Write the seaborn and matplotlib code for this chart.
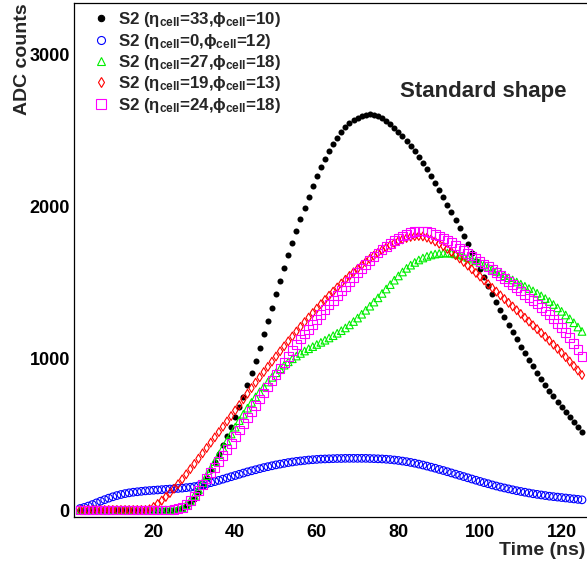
"""
Pulse shapes of five S2 cells (ADC counts vs time), ROOT-like style.
"""
import matplotlib

matplotlib.use("Agg")
import matplotlib.pyplot as plt
import seaborn as sns
from matplotlib.ticker import MultipleLocator
from matplotlib.lines import Line2D

sns.set_theme(style="white")
plt.rcParams["font.family"] = ["Liberation Sans", "DejaVu Sans"]
plt.rcParams["font.weight"] = "bold"
plt.rcParams["mathtext.fontset"] = "custom"
plt.rcParams["mathtext.rm"] = "Liberation Sans:bold"
plt.rcParams["mathtext.it"] = "Liberation Sans:bold"
plt.rcParams["mathtext.bf"] = "Liberation Sans:bold"

# time samples (ns)
time_ns = list(range(2, 126))

# S2 (eta=33, phi=10)
adc_33_10 = [0] * 23 + [
    2, 6, 13, 28, 48, 75, 112, 158, 208, 260,
    315, 370, 425, 485, 548, 612, 678, 745, 820, 900,
    983, 1068, 1155, 1243, 1332, 1420, 1505, 1590, 1675, 1757,
    1837, 1915, 1990, 2062, 2130, 2195, 2255, 2312, 2363, 2410,
    2450, 2486, 2518, 2545, 2566, 2582, 2594, 2601, 2603, 2600,
    2592, 2578, 2560, 2538, 2513, 2487, 2458, 2427, 2394, 2359,
    2322, 2283, 2242, 2198, 2152, 2104, 2057, 2010, 1960, 1908,
    1855, 1801, 1748, 1694, 1640, 1585, 1530, 1475, 1420, 1368,
    1318, 1268, 1218, 1168, 1122, 1075, 1030, 987, 945, 903,
    862, 822, 784, 747, 711, 676, 642, 609, 577, 546,
    515,
]

# S2 (eta=0, phi=12)
adc_0_12 = [
    10, 17, 26, 36, 47, 58, 68, 78, 87, 95,
    102, 108, 113, 117, 120, 123, 126, 128, 130, 132,
    134, 136, 138, 140, 142, 144, 147, 150, 154, 159,
    165, 172, 180, 187, 195, 203, 211, 219, 227, 235,
    243, 251, 258, 265, 272, 279, 285, 291, 297, 302,
    307, 312, 316, 320, 323, 326, 329, 331, 333, 335,
    336, 337, 338, 339, 339, 340, 340, 340, 340, 340,
    340, 339, 338, 337, 336, 334, 332, 329, 326, 322,
    318, 313, 308, 302, 296, 289, 282, 275, 267, 260,
    252, 244, 236, 228, 220, 212, 204, 196, 188, 180,
    173, 165, 158, 151, 145, 139, 133, 127, 122, 117,
    112, 107, 103, 99, 95, 91, 88, 85, 82, 79,
    76, 73, 70, 67,
]

# S2 (eta=27, phi=18)
adc_27_18 = [0] * 23 + [
    2, 6, 15, 35, 62, 95, 135, 180, 226, 272,
    318, 364, 410, 455, 500, 545, 588, 630, 670, 708,
    744, 778, 810, 842, 873, 903, 929, 953, 975, 995,
    1013, 1030, 1046, 1061, 1075, 1089, 1103, 1117, 1132, 1147,
    1163, 1180, 1198, 1218, 1240, 1263, 1288, 1314, 1341, 1368,
    1396, 1425, 1454, 1483, 1512, 1540, 1566, 1590, 1611, 1629,
    1645, 1658, 1669, 1678, 1684, 1688, 1690, 1691, 1689, 1685,
    1679, 1671, 1662, 1651, 1639, 1626, 1612, 1598, 1584, 1570,
    1556, 1542, 1528, 1514, 1500, 1486, 1472, 1457, 1442, 1426,
    1409, 1391, 1372, 1352, 1330, 1307, 1283, 1258, 1232, 1204,
    1175,
]

# S2 (eta=19, phi=13)
adc_19_13 = [0] * 17 + [
    5, 20, 40, 62, 86, 112, 140, 170, 202, 235,
    269, 303, 338, 373, 408, 443, 478, 513, 548, 583,
    618, 655, 690, 728, 765, 802, 838, 873, 908, 942,
    976, 1010, 1044, 1077, 1110, 1142, 1174, 1205, 1236, 1266,
    1296, 1325, 1354, 1382, 1410, 1437, 1464, 1490, 1515, 1540,
    1564, 1587, 1610, 1632, 1653, 1673, 1692, 1710, 1727, 1743,
    1757, 1770, 1781, 1790, 1797, 1802, 1803, 1800, 1792, 1780,
    1767, 1752, 1736, 1718, 1698, 1677, 1655, 1632, 1608, 1584,
    1560, 1536, 1511, 1486, 1461, 1437, 1412, 1388, 1363, 1339,
    1314, 1290, 1265, 1240, 1215, 1190, 1165, 1140, 1114, 1088,
    1061, 1034, 1006, 977, 948, 918, 888,
]

# S2 (eta=24, phi=18)
adc_24_18 = [0] * 23 + [
    3, 8, 18, 38, 62, 92, 128, 168, 208, 245,
    282, 320, 358, 398, 440, 485, 527, 568, 610, 650,
    690, 730, 770, 810, 850, 890, 930, 970, 1010, 1050,
    1088, 1125, 1158, 1190, 1222, 1254, 1286, 1318, 1350, 1381,
    1412, 1443, 1473, 1503, 1532, 1561, 1589, 1616, 1642, 1667,
    1691, 1714, 1735, 1755, 1773, 1789, 1803, 1815, 1825, 1832,
    1836, 1836, 1832, 1825, 1815, 1803, 1789, 1774, 1758, 1741,
    1724, 1707, 1690, 1672, 1654, 1636, 1618, 1600, 1582, 1563,
    1544, 1525, 1505, 1484, 1463, 1441, 1418, 1395, 1378, 1356,
    1333, 1309, 1284, 1257, 1229, 1199, 1167, 1133, 1097, 1055,
    1012,
]

labels = [
    r"S2 ($\eta_{cell}$=33,$\phi_{cell}$=10)",
    r"S2 ($\eta_{cell}$=0,$\phi_{cell}$=12)",
    r"S2 ($\eta_{cell}$=27,$\phi_{cell}$=18)",
    r"S2 ($\eta_{cell}$=19,$\phi_{cell}$=13)",
    r"S2 ($\eta_{cell}$=24,$\phi_{cell}$=18)",
]
series = [adc_33_10, adc_0_12, adc_27_18, adc_19_13, adc_24_18]
colors = ["black", "#0000ff", "#00ee00", "#ff0000", "#ff00ff"]
markers = ["o", "o", "^", "d", "s"]
sizes = [19, 30, 30, 20, 40]
filled = [True, False, False, False, False]

fig = plt.figure(figsize=(5.87, 5.65), dpi=100)
ax = fig.add_axes([74 / 587, 48 / 565, (592 - 74) / 587, 514 / 565])

handles = []
for vals, col, mk, sz, fill, lab in zip(series, colors, markers, sizes, filled, labels):
    sns.scatterplot(x=time_ns, y=vals, ax=ax, marker=mk, s=sz, color=col,
                    linewidth=0 if fill else 0.8, legend=False, zorder=3)
    coll = ax.collections[-1]
    if not fill:
        coll.set_facecolor("none")
        coll.set_edgecolor(col)
    handles.append(Line2D([], [], ls="none", marker=mk, color=col,
                          markersize=(sz ** 0.5) * 1.05,
                          markerfacecolor=col if fill else "none",
                          markeredgewidth=0.8, label=lab))

ax.set_xlim(0.49, 127.45)
ax.set_ylim(-46, 3336)

ax.xaxis.set_major_locator(MultipleLocator(20))
ax.xaxis.set_minor_locator(MultipleLocator(5))
ax.yaxis.set_major_locator(MultipleLocator(1000))
ax.yaxis.set_minor_locator(MultipleLocator(200))
ax.tick_params(which="both", direction="in", top=False, right=False,
               colors="black", labelsize=13, width=0.9)
ax.tick_params(which="major", length=7)
ax.tick_params(which="minor", length=3.5)
ax.tick_params(axis="x", pad=5)
ax.tick_params(axis="y", pad=3)
for lbl in ax.get_xticklabels() + ax.get_yticklabels():
    lbl.set_fontweight("bold")

for side in ["left", "bottom", "top", "right"]:
    ax.spines[side].set_color("black")
    ax.spines[side].set_linewidth(0.9)

ax.set_ylabel("ADC counts", fontsize=14, fontweight="bold")
ax.yaxis.set_label_coords(-0.083, 1.0)
ax.yaxis.label.set_ha("right")
ax.set_xlabel("Time (ns)", fontsize=14, fontweight="bold")
ax.xaxis.set_label_coords(0.988, -0.066)
ax.xaxis.label.set_ha("right")
ax.xaxis.label.set_va("center")

ax.legend(handles=handles, loc="upper left", bbox_to_anchor=(0.035, 0.986),
          frameon=False, fontsize=12.2, handlelength=1.0, handletextpad=0.5,
          labelspacing=0.14, borderpad=0, borderaxespad=0)

fig.text(400 / 587, 1 - 91 / 565, "Standard shape", fontsize=16,
         fontweight="bold", ha="left", va="center")

fig.savefig("out.png", dpi=100)
